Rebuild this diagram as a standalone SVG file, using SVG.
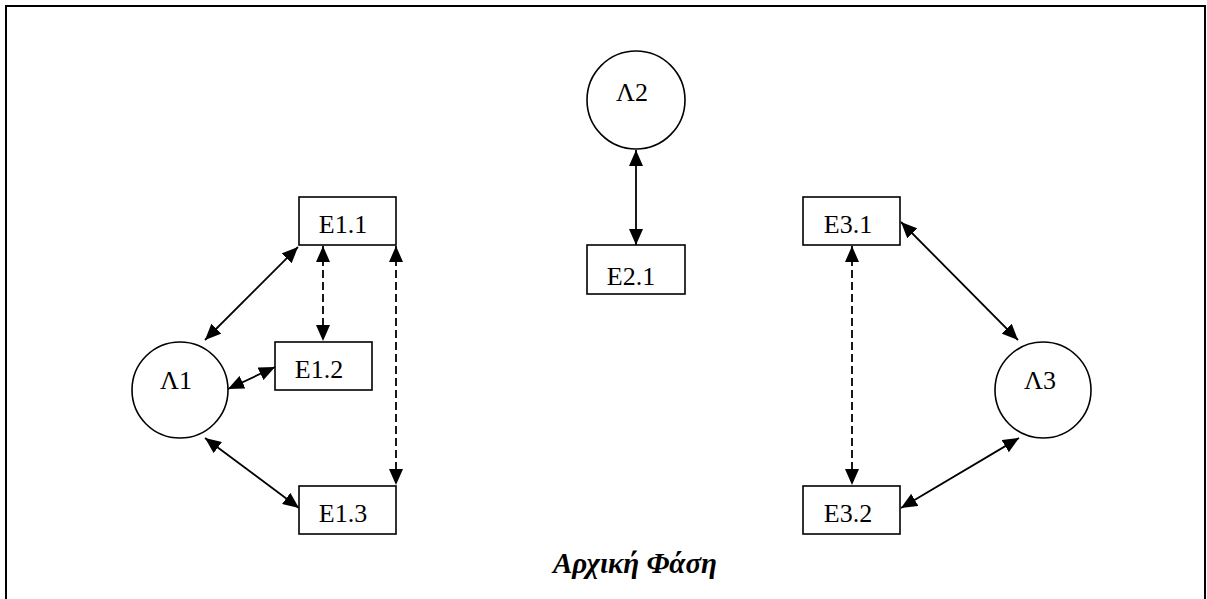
<svg xmlns="http://www.w3.org/2000/svg" width="1207" height="599" viewBox="0 0 1207 599">
  <style>
    .node { fill: #fff; stroke: #000; stroke-width: 1.6; }
    .lbl { font-family: "Liberation Serif", "DejaVu Serif", "Times New Roman", serif; font-size: 26px; fill: #000; text-anchor: middle; }
    .edge { fill: none; stroke: #000; stroke-width: 1.8; marker-start: url(#ah); marker-end: url(#ah); }
    .dash { stroke-dasharray: 8 4; }
    .title { font-family: "Liberation Serif", "DejaVu Serif", "Times New Roman", serif; font-size: 29px; font-weight: bold; font-style: italic; text-anchor: middle; fill: #000; }
  </style>
  <defs>
    <marker id="ah" viewBox="0 0 16 14" refX="16" refY="7" markerWidth="16" markerHeight="14" markerUnits="userSpaceOnUse" orient="auto-start-reverse">
      <path d="M0,0 L16,7 L0,14 Z" fill="#000"/>
    </marker>
  </defs>

  <rect x="0" y="0" width="1207" height="599" fill="#fff"/>
  <!-- outer frame -->
  <rect x="6" y="6" width="1199" height="600" fill="none" stroke="#000" stroke-width="2"/>

  <g id="connectors">
    <line class="edge" x1="205" y1="340" x2="298" y2="247"/>
    <line class="edge dash" x1="323" y1="246" x2="323" y2="341"/>
    <line class="edge dash" x1="396" y1="246" x2="396" y2="485"/>
    <line class="edge" x1="228" y1="389" x2="275" y2="367"/>
    <line class="edge" x1="205" y1="438" x2="299" y2="508"/>
    <line class="edge" x1="636" y1="150" x2="636" y2="245"/>
    <line class="edge" x1="901" y1="222" x2="1018" y2="340"/>
    <line class="edge dash" x1="852" y1="246" x2="852" y2="485"/>
    <line class="edge" x1="901" y1="508" x2="1019" y2="438"/>
  </g>

  <g id="L1">
    <circle class="node" cx="180" cy="390" r="48"/>
    <text class="lbl" x="176" y="389">Λ1</text>
  </g>
  <g id="L2">
    <circle class="node" cx="636" cy="100" r="49"/>
    <text class="lbl" x="632" y="101">Λ2</text>
  </g>
  <g id="L3">
    <circle class="node" cx="1043" cy="390" r="48"/>
    <text class="lbl" x="1040" y="389">Λ3</text>
  </g>

  <g id="E1_1">
    <rect class="node" x="299" y="197" width="97" height="48"/>
    <text class="lbl" x="343" y="233">E1.1</text>
  </g>
  <g id="E1_2">
    <rect class="node" x="275" y="342" width="97" height="48"/>
    <text class="lbl" x="319" y="378">E1.2</text>
  </g>
  <g id="E1_3">
    <rect class="node" x="299" y="486" width="97" height="48"/>
    <text class="lbl" x="343" y="522">E1.3</text>
  </g>
  <g id="E2_1">
    <rect class="node" x="587" y="245" width="98" height="49"/>
    <text class="lbl" x="631" y="285">E2.1</text>
  </g>
  <g id="E3_1">
    <rect class="node" x="803" y="197" width="97" height="48"/>
    <text class="lbl" x="848" y="233">E3.1</text>
  </g>
  <g id="E3_2">
    <rect class="node" x="803" y="486" width="97" height="48"/>
    <text class="lbl" x="848" y="522">E3.2</text>
  </g>

  <text class="title" x="635" y="573">Αρχική Φάση</text>
</svg>
